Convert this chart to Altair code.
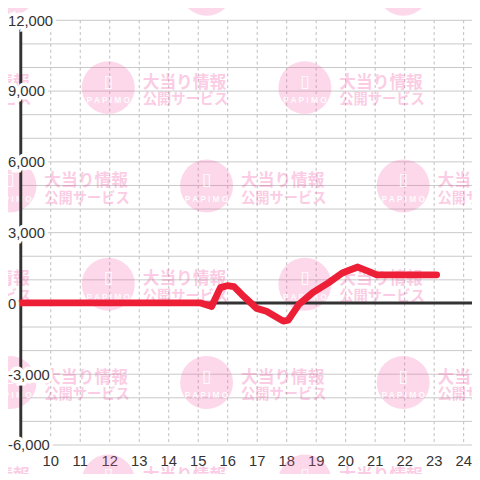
import altair as alt
import pandas as pd

# ---- data ----
hours = [9.0, 15.1, 15.47, 15.77, 16.0, 16.23, 16.5, 17.0, 17.33, 17.9, 18.07,
         18.43, 18.9, 19.43, 19.9, 20.07, 20.43, 20.77, 21.07, 23.1]
values = [0, 0, -150, 650, 730, 690, 350, -230, -350, -770, -730,
          -60, 440, 850, 1270, 1350, 1520, 1350, 1190, 1190]

x_ticks = list(range(10, 25))
y_ticks = list(range(-6000, 12001, 3000))
y_grid = list(range(-6000, 12001, 1000))

X_DOMAIN = [9, 24.3]
Y_DOMAIN = [-6000, 12000]

df = pd.DataFrame({"h": hours, "v": values})
ylab = pd.DataFrame({"v": y_ticks, "label": [f"{t:,}" for t in y_ticks]})
zero_df = pd.DataFrame({"h": [X_DOMAIN[0]], "h2": [X_DOMAIN[1]], "v": [0]})
yline_df = pd.DataFrame({"h": [X_DOMAIN[0]], "v": [Y_DOMAIN[0]], "v2": [Y_DOMAIN[1]]})

# watermark tile centres (decorative background pattern)
wm_rows_a = [13292, 4958, -3375]
wm_cols_a = [8.633, 15.3, 21.967]
wm_rows_b = [9125, 792, -7542]
wm_cols_b = [5.3, 11.967, 18.633]
wm = pd.DataFrame(
    [{"h": c, "v": r} for r in wm_rows_a for c in wm_cols_a]
    + [{"h": c, "v": r} for r in wm_rows_b for c in wm_cols_b]
)

xs = alt.Scale(domain=X_DOMAIN, nice=False, zero=False)
ys = alt.Scale(domain=Y_DOMAIN, nice=False, zero=False)

x_axis = alt.Axis(values=x_ticks, title=None, domain=False, ticks=False,
                  grid=True, gridColor="#bdbdbd", gridDash=[3, 3],
                  gridWidth=1, labelFontSize=15, labelColor="#333333",
                  labelFont="Liberation Sans", labelPadding=9,
                  labelFlush=False)
y_axis = alt.Axis(values=y_grid, title=None, domain=False, ticks=False,
                  labels=False, grid=True, gridColor="#c8c8c8", gridWidth=1)

enc_x = alt.X("h:Q", scale=xs, axis=x_axis)
enc_y = alt.Y("v:Q", scale=ys, axis=y_axis)

PINK = "#f25aa8"

wm_base = alt.Chart(wm).encode(x=enc_x, y=enc_y)
wm_circle = wm_base.mark_circle(size=2900, color=PINK, opacity=0.24)
wm_phone = wm_base.mark_text(text="▯", color="white", fontSize=18, dy=-6,
                             font="DejaVu Sans", opacity=0.9)
wm_logo = wm_base.mark_text(text="P A P I M O", color="white", fontSize=8.5,
                            fontWeight="bold", dy=13, font="Liberation Sans",
                            opacity=0.9)
wm_t1 = wm_base.mark_text(text="大当り情報", color=PINK, opacity=0.3,
                          fontSize=17, fontWeight="bold", align="left",
                          baseline="middle", dx=35, dy=-5,
                          font="Noto Sans CJK JP")
wm_t2 = wm_base.mark_text(text="公開サービス", color=PINK, opacity=0.3,
                          fontSize=14.5, fontWeight="bold", align="left",
                          baseline="middle", dx=35, dy=13,
                          font="Noto Sans CJK JP")

line = alt.Chart(df).mark_line(
    color="#ec1f37", strokeWidth=7, strokeJoin="round", strokeCap="round"
).encode(x=enc_x, y=enc_y)

zero_line = alt.Chart(zero_df).mark_rule(color="#333333", strokeWidth=3).encode(
    x=enc_x, x2="h2:Q", y=enc_y)
y_line = alt.Chart(yline_df).mark_rule(color="#333333", strokeWidth=3).encode(
    x=enc_x, y=enc_y, y2="v2:Q")


def labels(halo):
    style = dict(align="left", baseline="middle", dy=1, fontSize=15,
                 font="Liberation Sans")
    if halo:
        style.update(stroke="white", strokeWidth=7, fill="white")
    else:
        style.update(color="#333333")
    return alt.Chart(ylab).mark_text(**style).encode(
        y=enc_y, x=alt.value(-13), text="label:N"
    )


chart = alt.layer(
    wm_circle, wm_phone, wm_logo, wm_t1, wm_t2,
    y_line, zero_line, line, labels(True), labels(False),
).properties(
    width=459, height=432,
    autosize=alt.AutoSizeParams(type="none"),
    padding={"left": 13, "top": 8, "right": 0, "bottom": 26},
    background="white",
).configure_view(stroke=None)

chart.save("out.html", embed_options={"renderer": "svg", "actions": False})
